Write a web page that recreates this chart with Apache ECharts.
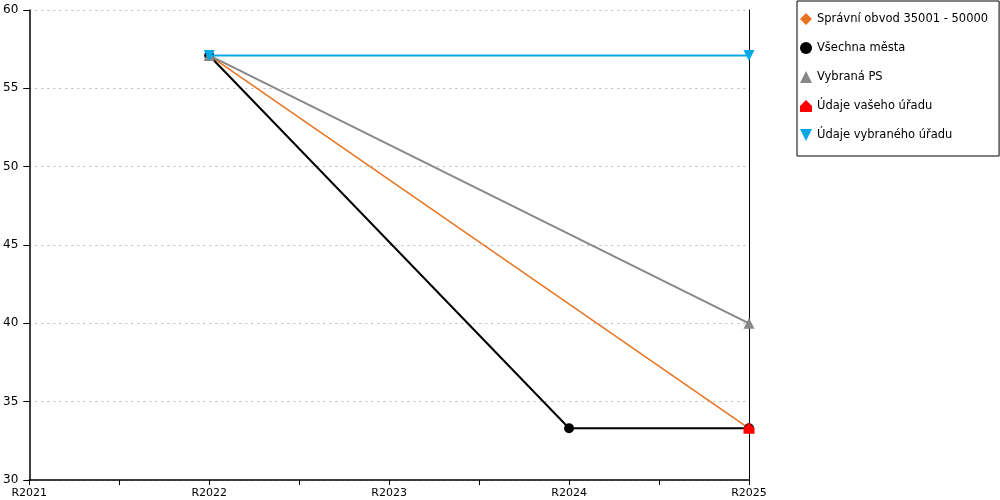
<!DOCTYPE html>
<html><head><meta charset="utf-8">
<script src="https://cdn.jsdelivr.net/npm/echarts@6/dist/echarts.min.js"></script>
<style>html,body{margin:0;padding:0;background:#fff}#c{width:1000px;height:500px}</style>
</head><body><div id="c"></div>
<script>
const years = [2021, 2022, 2023, 2024, 2025];
const yTicks = [30, 35, 40, 45, 50, 55, 60];
const names = ['Správní obvod 35001 - 50000', 'Všechna města', 'Vybraná PS', 'Údaje vašeho úřadu', 'Údaje vybraného úřadu'];
const spravniObvod = [null, 57.1, null, null, 33.3];
const vsechnaMesta = [null, 57.1, null, 33.3, 33.3];
const vybranaPS = [null, 57.1, null, null, 40];
const udajeVasehoUradu = [null, null, null, null, 33.3];
const udajeVybranehoUradu = [null, 57.1, null, null, 57.1];

const house = 'path://M0,-1 L1,0 L1,1 L-1,1 L-1,0 Z';
const toPts = arr => years.map((y, i) => [y, arr[i]]).filter(p => p[1] !== null);
const font = 'DejaVu Sans';

const defs = [
  {data: spravniObvod, color: '#e8731f', symbol: 'diamond', size: 10, width: 1.5},
  {data: vsechnaMesta, color: '#000000', symbol: 'circle', size: 10, width: 2},
  {data: vybranaPS, color: '#888888', symbol: 'triangle', size: 11, width: 2},
  {data: udajeVasehoUradu, color: '#ff0000', symbol: house, size: 11, width: 2},
  {data: udajeVybranehoUradu, color: '#00a8e8', symbol: 'path://M-1,-1 L1,-1 L0,1 Z', size: 11, width: 2}
];

const chart = echarts.init(document.getElementById('c'));
chart.setOption({
  animation: false,
  textStyle: {fontFamily: font},
  grid: {left: 29, right: 251, top: 10, bottom: 20, containLabel: false},
  xAxis: {
    type: 'value', min: years[0], max: years[years.length - 1], interval: 0.5,
    axisLine: {show: true, lineStyle: {color: '#000', width: 1.5}},
    axisTick: {show: true, length: 5, lineStyle: {color: '#000'}},
    axisLabel: {color: '#000', fontSize: 11, margin: 8, fontFamily: font,
      formatter: v => Number.isInteger(v) ? 'R' + v : '', showMinLabel: true, showMaxLabel: true},
    splitLine: {show: false}
  },
  yAxis: [{
    type: 'value', min: yTicks[0], max: yTicks[yTicks.length - 1], interval: 5,
    axisLine: {show: true, lineStyle: {color: '#000', width: 1.5}},
    axisTick: {show: true, length: 6, lineStyle: {color: '#000'}},
    axisLabel: {color: '#000', fontSize: 12, margin: 11, fontFamily: font},
    splitLine: {show: true, lineStyle: {color: '#bbb', type: [2, 4], width: 1}}
  }, {
    type: 'value', position: 'right', min: yTicks[0], max: yTicks[yTicks.length - 1], interval: 5,
    axisLine: {show: true, lineStyle: {color: '#000', width: 1}},
    axisTick: {show: false}, axisLabel: {show: false}, splitLine: {show: false}
  }],
  legend: {
    orient: 'vertical', left: 797, top: 1,
    padding: [12, 11, 15, 3],
    itemGap: 17, itemWidth: 12, itemHeight: 12,
    borderColor: '#000', borderWidth: 1,
    textStyle: {fontSize: 11.5, color: '#000', fontFamily: font, padding: [0, 0, 0, 0]},
    data: names.map((n, i) => ({name: n, icon: defs[i].symbol}))
  },
  series: defs.map((d, i) => ({
    name: names[i], type: 'line', data: toPts(d.data), connectNulls: true,
    symbol: d.symbol, symbolSize: d.size, showSymbol: true,
    color: d.color,
    itemStyle: {color: d.color},
    lineStyle: {color: d.color, width: d.width},
    z: i + 2
  }))
});
</script></body></html>
